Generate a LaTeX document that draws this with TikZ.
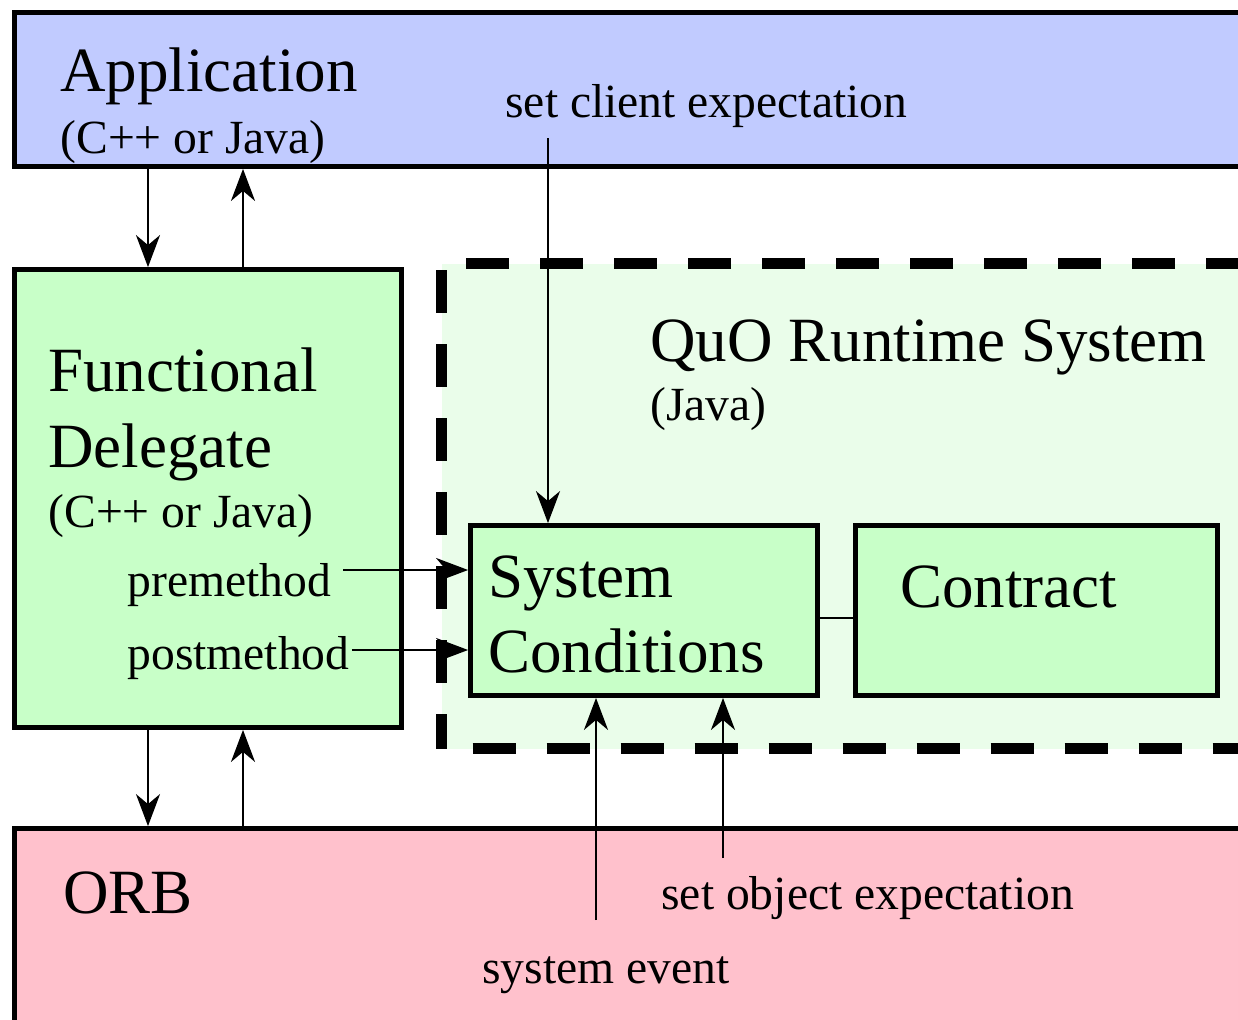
\documentclass[tikz,border=0pt]{standalone}
\usepackage{fontspec}
\setmainfont{Liberation Serif}
\usetikzlibrary{arrows.meta,positioning}
\definecolor{appblue}{RGB}{193,203,255}
\definecolor{delgreen}{RGB}{200,255,200}
\definecolor{quogreen}{RGB}{234,253,234}
\definecolor{orbpink}{RGB}{255,193,204}

\begin{document}
\begin{tikzpicture}[
  x=0.5pt,y=-0.5pt,
  layer/.style={rectangle,draw=black,line width=2.5pt,anchor=north west,
                inner sep=0pt,outer sep=0pt},
  runtime/.style={rectangle,draw=black,fill=quogreen,line width=5.5pt,
                  dash pattern=on 21.5pt off 15.5pt,dash phase=21.5pt,
                  anchor=north west,inner sep=0pt,outer sep=0pt},
  big/.style={anchor=base west,inner sep=0pt,
              font=\fontsize{31.5pt}{37.5pt}\selectfont},
  small/.style={anchor=base west,inner sep=0pt,
                font=\fontsize{23.8pt}{28pt}\selectfont},
  arr/.style={-{Stealth[length=16pt,width=12pt,inset=5pt]},
              line width=1.2pt,shorten >=1.2pt},
  link/.style={line width=1.2pt},
]

\useasboundingbox (0,0) rectangle (1238,1019);
\clip (0,0) rectangle (1238,1019);

% layers
\node[layer,fill=appblue,minimum width=622.75pt,minimum height=77pt]
  (app) at (14.5,12.5) {};
\node[layer,fill=delgreen,minimum width=193.25pt,minimum height=229pt]
  (fd) at (14.5,269.5) {};
\node[layer,fill=orbpink,minimum width=622.75pt,minimum height=105.75pt]
  (orb) at (14.5,828.5) {};
\node[runtime,minimum width=421.375pt,minimum height=242.5pt]
  (quo) at (441.5,263.5) {};
\node[layer,fill=delgreen,minimum width=173.5pt,minimum height=85pt]
  (sc) at (470.5,525.5) {};
\node[layer,fill=delgreen,minimum width=181.25pt,minimum height=85pt]
  (contract) at (855,525.5) {};

% labels
\node[big]   (apptitle)  at (60,91)   {Application};
\node[small] (applang)   at (60,153)  {(C++ or Java)};
\node[small] (clientlbl) at (505,117) {set client expectation};
\node[big]   (fdtitle)   at (48,391)  {Functional};
\node[big]   (fdtitleb)  at (48,467)  {Delegate};
\node[small] (fdlang)    at (48,527)  {(C++ or Java)};
\node[small] (pre)       at (127,596) {premethod};
\node[small] (post)      at (127,669) {postmethod};
\node[big]   (quotitle)  at (650,361) {QuO Runtime System};
\node[small] (quolang)   at (650,420) {(Java)};
\node[big]   (sctitle)   at (488,597) {System};
\node[big]   (sctitleb)  at (488,672) {Conditions};
\node[big]   (ctitle)    at (900,607) {Contract};
\node[big]   (orbtitle)  at (63,913)  {ORB};
\node[small] (objlbl)    at (661,909) {set object expectation};
\node[small] (eventlbl)  at (482,983) {system event};

% connectors
\coordinate (xdown) at (148,0);
\coordinate (xup) at (243,0);
\coordinate (clientstart) at (548,138);
\coordinate (eventstart) at (596,920);
\coordinate (objstart) at (723,858);
\coordinate (ylink) at (0,618);

\draw[arr] (app.south -| xdown) -- (fd.north -| xdown);
\draw[arr] (fd.north -| xup)    -- (app.south -| xup);
\draw[arr] (fd.south -| xdown)  -- (orb.north -| xdown);
\draw[arr] (orb.north -| xup)   -- (fd.south -| xup);
\draw[arr] (clientstart) -- (clientstart |- sc.north);
\draw[arr] ([shift={(6pt,13pt)}]pre.base east) coordinate (prestart)
           -- (prestart -| sc.west);
\draw[arr] ([shift={(1pt,9.5pt)}]post.base east) coordinate (poststart)
           -- (poststart -| sc.west);
\draw[arr] (eventstart) -- (eventstart |- sc.south);
\draw[arr] (objstart)   -- (objstart |- sc.south);
\draw[link] (sc.east |- ylink) -- (contract.west |- ylink);

\end{tikzpicture}
\end{document}
